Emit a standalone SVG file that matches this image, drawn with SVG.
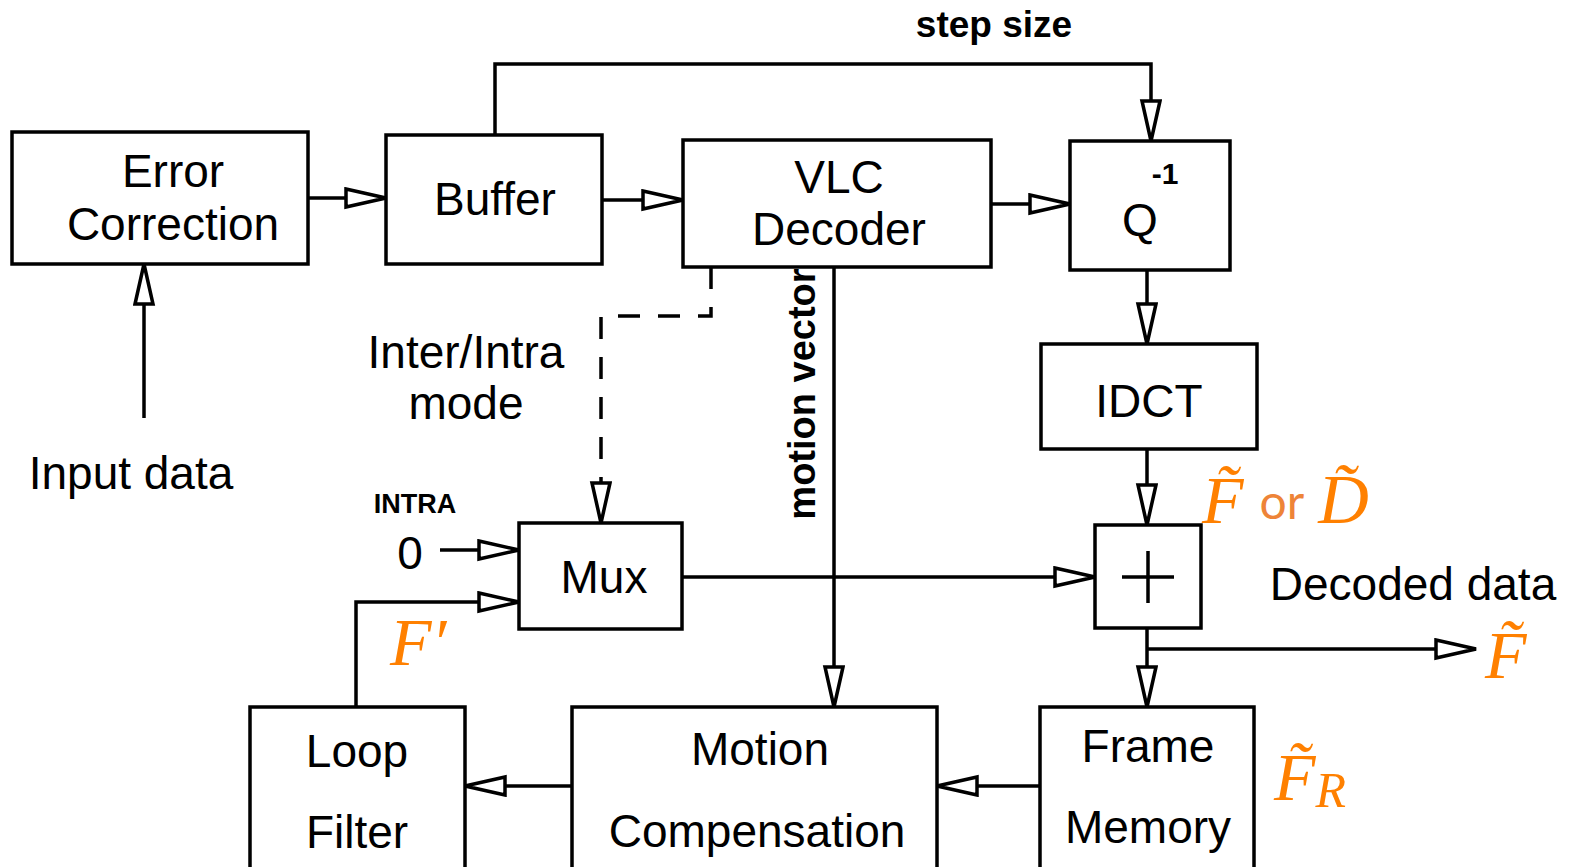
<svg xmlns="http://www.w3.org/2000/svg" width="1578" height="867" viewBox="0 0 1578 867">
<style>
.box{fill:#fff;stroke:#000;stroke-width:3.5}
.t{font-family:"Liberation Sans",Arial,sans-serif;font-size:46px;fill:#000;text-anchor:middle}
.lbl{font-family:"Liberation Sans",Arial,sans-serif;fill:#000}
.ln{fill:none;stroke:#000;stroke-width:3.5}
.m{font-family:"Liberation Serif","Times New Roman",serif;font-style:italic;fill:#FF8000}
</style>
<defs>
<marker id="arr" markerUnits="userSpaceOnUse" markerWidth="46" markerHeight="24" refX="42" refY="11" orient="auto" viewBox="0 0 46 24">
<path d="M2,2 L42,11 L2,20 Z" fill="#fff" stroke="#000" stroke-width="3.5" stroke-linejoin="miter"/>
</marker>
</defs>
<rect width="1578" height="867" fill="#fff"/>
<g id="connectors">
<path class="ln" d="M308,198 H386" marker-end="url(#arr)"/>
<path class="ln" d="M602,200 H683" marker-end="url(#arr)"/>
<path class="ln" d="M991,204 H1070" marker-end="url(#arr)"/>
<path class="ln" d="M495,135 V64 H1151 V141" marker-end="url(#arr)"/>
<path class="ln" d="M1147,270 V344" marker-end="url(#arr)"/>
<path class="ln" d="M1147,449 V525" marker-end="url(#arr)"/>
<path class="ln" d="M1147,628 V707" marker-end="url(#arr)"/>
<path class="ln" d="M1147,649 H1476" marker-end="url(#arr)"/>
<path class="ln" d="M1040,786 H937" marker-end="url(#arr)"/>
<path class="ln" d="M572,786 H465" marker-end="url(#arr)"/>
<path class="ln" d="M356,707 V602 H519" marker-end="url(#arr)"/>
<path class="ln" d="M440,550 H519" marker-end="url(#arr)"/>
<path class="ln" d="M682,577 H1095" marker-end="url(#arr)"/>
<path class="ln" d="M144,418 V264" marker-end="url(#arr)"/>
<path class="ln" d="M834,267 V707" marker-end="url(#arr)"/>
<path class="ln" d="M711,267 V316 H601 V478" stroke-dasharray="22,18"/>
<path class="ln" d="M601,478 V523" marker-end="url(#arr)"/>
</g>
<g id="error-correction"><rect class="box" x="12" y="132" width="296" height="132"/><text class="t" x="173" y="187">Error</text><text class="t" x="173" y="240">Correction</text></g>
<g id="buffer"><rect class="box" x="386" y="135" width="216" height="129"/><text class="t" x="495" y="215">Buffer</text></g>
<g id="vlc-decoder"><rect class="box" x="683" y="140" width="308" height="127"/><text class="t" x="839" y="193">VLC</text><text class="t" x="839" y="245">Decoder</text></g>
<g id="q-inverse"><rect class="box" x="1070" y="141" width="160" height="129"/><text class="t" x="1140" y="236">Q</text><text class="lbl" x="1165" y="184" font-size="30" font-weight="bold" text-anchor="middle">-1</text></g>
<g id="idct"><rect class="box" x="1041" y="344" width="216" height="105"/><text class="t" x="1149" y="417">IDCT</text></g>
<g id="adder"><rect class="box" x="1095" y="525" width="106" height="103"/><path class="ln" d="M1122,577 H1174 M1148,551 V603"/></g>
<g id="mux"><rect class="box" x="519" y="523" width="163" height="106"/><text class="t" x="604" y="593">Mux</text></g>
<g id="loop-filter"><rect class="box" x="250" y="707" width="215" height="175"/><text class="t" x="357" y="767">Loop</text><text class="t" x="357" y="848">Filter</text></g>
<g id="motion-compensation"><rect class="box" x="572" y="707" width="365" height="175"/><text class="t" x="760" y="765">Motion</text><text class="t" x="757" y="847">Compensation</text></g>
<g id="frame-memory"><rect class="box" x="1040" y="707" width="214" height="175"/><text class="t" x="1148" y="762">Frame</text><text class="t" x="1148" y="843">Memory</text></g>
<g id="labels">
<text class="t" x="131" y="489">Input data</text>
<text class="t" x="1413" y="600">Decoded data</text>
<text class="t" x="466" y="368">Inter/Intra</text>
<text class="t" x="466" y="419">mode</text>
<text class="lbl" x="994" y="37" font-size="37" font-weight="bold" text-anchor="middle">step size</text>
<text class="lbl" x="415" y="513" font-size="27" font-weight="bold" text-anchor="middle">INTRA</text>
<text class="t" x="410" y="569">0</text>
<text class="lbl" font-size="38" font-weight="bold" text-anchor="middle" transform="translate(815,394) rotate(-90)">motion vector</text>
</g>
<g id="math-labels">
<text x="1202" y="523" font-size="68"><tspan class="m">F̃</tspan><tspan font-family="Lato,'Liberation Sans',sans-serif" font-size="48" fill="#EE8438" dx="16" dy="-4">or</tspan><tspan class="m" dx="14" dy="4" font-size="70">D̃</tspan></text>
<text class="m" x="390" y="665" font-size="68">F′</text>
<text class="m" x="1485" y="678" font-size="68">F̃</text>
<text class="m" x="1274" y="800" font-size="68">F̃<tspan font-size="50" dy="7">R</tspan></text>
</g>
</svg>
